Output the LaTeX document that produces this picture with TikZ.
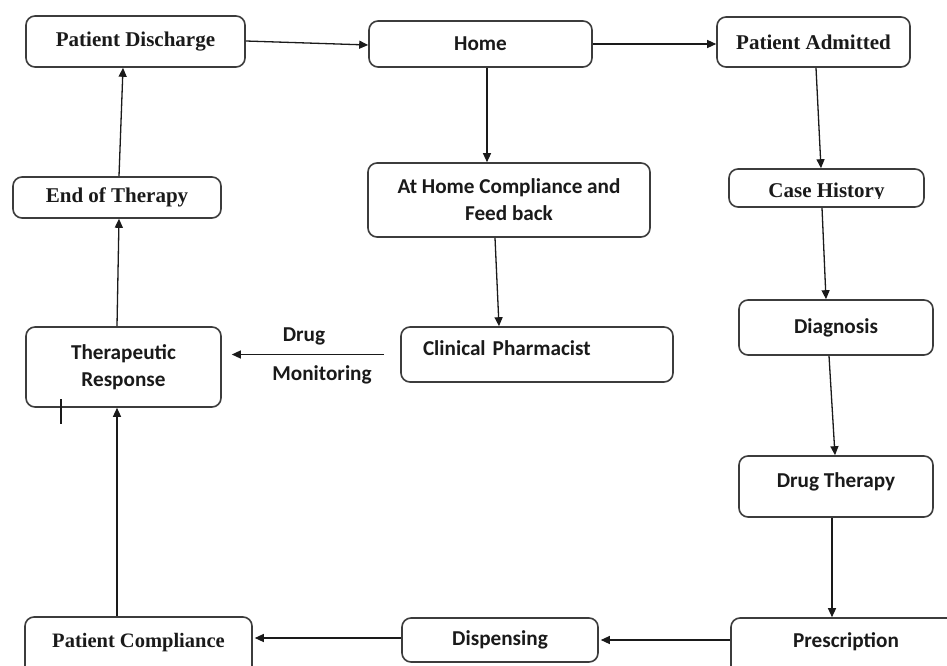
\documentclass[tikz,border=0pt]{standalone}
\usepackage{fontspec}
\setmainfont{Liberation Serif}
\newfontfamily\carl{Carlito}
\usetikzlibrary{arrows.meta}
\definecolor{edge}{HTML}{3C3C3C}
\definecolor{ink}{HTML}{1A1A1A}
\tikzset{
  boxbase/.style={draw=edge, line width=1.6pt, rounded corners=9pt, fill=white, text=ink, inner sep=0pt, align=center},
  sbox/.style={boxbase, font=\fontsize{21}{24}\selectfont\bfseries},
  cbox/.style={boxbase, font=\fontsize{21.2}{27}\selectfont\carl\bfseries},
  lab/.style={text=ink, font=\fontsize{21.2}{24}\selectfont\carl\bfseries, inner sep=0pt},
  conn/.style={draw=ink, line width=1.3pt, -{Triangle[length=9pt,width=8pt]}}
}
\begin{document}
\begin{tikzpicture}[x=1pt,y=-1pt]
\useasboundingbox (0,0) rectangle (947,666);
\clip (0,0) rectangle (947,666);
\fill[white] (0,0) rectangle (947,666);
% boxes
\node[sbox, minimum width=219, minimum height=51] (pd) at (135.5,41.5) {Patient Discharge};
\node[cbox, minimum width=223, minimum height=46] (home) at (480.5,44) {Home};
\node[sbox, minimum width=193, minimum height=50] (pa) at (813.5,42) {Patient Admitted};
\node[sbox, minimum width=208, minimum height=41] (eot) at (117,197.5) {End of Therapy};
\node[cbox, minimum width=282, minimum height=74] (ahc) at (509,200) {At Home Compliance and\\Feed back};
\node[sbox, minimum width=195, minimum height=38] (ch) at (826.5,188) {};
\begin{scope}
\clip (729,169) rectangle (924,198.5);
\node[sbox, draw=none, fill=none] (cht) at (826.5,192) {Case History};
\end{scope}
\node[cbox, minimum width=195, minimum height=80] (tr) at (123.5,367) {Therapeutic\\Response};
\node[cbox, minimum width=272, minimum height=55, text width=228, inner xsep=22, align=left, text depth=13pt] (cp) at (537,354.5) {Clinical Pharmacist};
\node[cbox, minimum width=194, minimum height=55] (dg) at (836,327.5) {Diagnosis};
\node[cbox, minimum width=194, minimum height=61, text depth=12pt] (dt) at (836,486.5) {Drug Therapy};
\node[sbox, minimum width=227, minimum height=58, text depth=12pt, font=\fontsize{20.5}{24}\selectfont\bfseries] (pc) at (138.5,646) {Patient Compliance};
\node[cbox, minimum width=196, minimum height=44] (dis) at (500,640) {Dispensing};
\node[cbox, minimum width=230, minimum height=58, text depth=14pt] (pr) at (846,647) {Prescription};
% labels
\node[lab] (drug) at (304,336) {Drug};
\node[lab] (mon) at (322,375) {Monitoring};
% connectors
\draw[conn] ([yshift=0.5pt]pd.east) -- ([yshift=-1pt]home.west);
\draw[conn] (home.east) -- (home.east -| pa.west);
\draw[conn] ([xshift=6.5pt]home.south) -- ([xshift=-22pt]ahc.north);
\draw[conn] ([xshift=2.5pt]pa.south) -- ([xshift=-5.5pt]ch.north);
\draw[conn] ([xshift=-4.5pt]ch.south) -- ([xshift=-10pt]dg.north);
\draw[conn] ([xshift=-7pt]dg.south) -- ([xshift=-1pt]dt.north);
\draw[conn] ([xshift=-14pt]ahc.south) -- ([xshift=-38pt]cp.north);
\draw[conn] ([xshift=-4pt]dt.south) -- ([xshift=-14pt]pr.north);
\draw[conn] (dis.east -| pr.west) -- ([xshift=2pt]dis.east);
\draw[conn] ([yshift=2pt]dis.west) -- ([xshift=2pt,yshift=2pt]dis.west -| pc.east);
\draw[conn] ([xshift=-21.5pt]pc.north) -- ([xshift=-6.5pt]tr.south);
\draw[conn] ([xshift=-6.5pt]tr.north) -- ([xshift=2pt]eot.south);
\draw[conn] ([xshift=2pt]eot.north) -- ([xshift=-12.5pt]pd.south);
\coordinate (dmS) at ([xshift=-16pt]cp.west);
\coordinate (dmE) at ([xshift=10pt]tr.east |- dmS);
\draw[conn] (dmS) -- (dmE);
% stray tick
\draw[ink, line width=1.3pt] (61,399) -- (61,424);
\end{tikzpicture}
\end{document}
